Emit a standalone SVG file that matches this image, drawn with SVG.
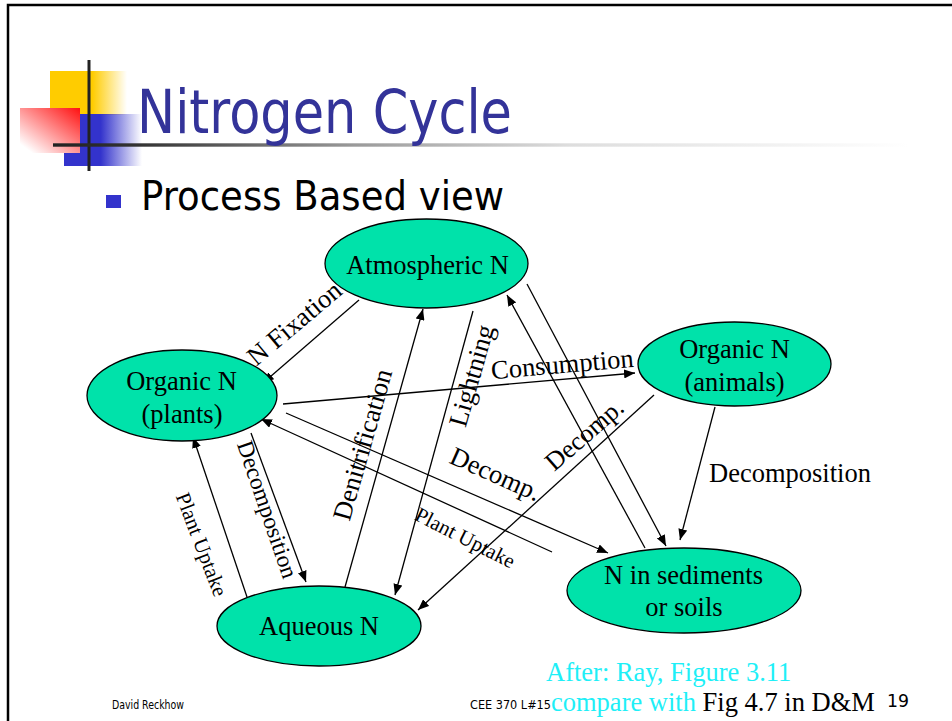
<svg xmlns="http://www.w3.org/2000/svg" width="952" height="721" viewBox="0 0 952 721">
<defs>
<linearGradient id="gY" x1="0" y1="0" x2="1" y2="0"><stop offset="0" stop-color="#FFCC00"/><stop offset="0.55" stop-color="#FFCC00"/><stop offset="1" stop-color="#FFCC00" stop-opacity="0"/></linearGradient>
<linearGradient id="gB" x1="0" y1="0" x2="1" y2="0"><stop offset="0" stop-color="#3333CC"/><stop offset="0.47" stop-color="#3333CC"/><stop offset="1" stop-color="#3333CC" stop-opacity="0"/></linearGradient>
<linearGradient id="gR" x1="1" y1="0" x2="0" y2="1"><stop offset="0" stop-color="#FF1010"/><stop offset="0.9" stop-color="#FFFFFF"/></linearGradient>
<linearGradient id="gL" x1="0" y1="0" x2="1" y2="0"><stop offset="0" stop-color="#222"/><stop offset="0.1" stop-color="#333"/><stop offset="0.35" stop-color="#999"/><stop offset="0.6" stop-color="#ddd"/><stop offset="1" stop-color="#fff"/></linearGradient>
<marker id="ah" markerUnits="userSpaceOnUse" markerWidth="12" markerHeight="9" refX="11" refY="4.5" orient="auto"><path d="M0,0 L11,4.5 L0,9 z" fill="#000"/></marker>
</defs>
<style>
.node ellipse{fill:#00E2AA;stroke:#000;stroke-width:1.3}
.t{font-family:"Liberation Serif","Times New Roman",serif;font-size:26.5px;fill:#000}
.c{text-anchor:middle}
.lbl{font-family:"Liberation Serif","Times New Roman",serif;fill:#000;text-anchor:middle}
#connectors line{stroke:#000;stroke-width:1.3}
.arr{marker-end:url(#ah)}
.sans{font-family:"DejaVu Sans","Liberation Sans",sans-serif}
</style>
<rect width="952" height="721" fill="#fff"/>
<path d="M8,721 V5 H952" fill="none" stroke="#000" stroke-width="2.5"/>
<g id="decor">
<rect x="50" y="71" width="77" height="44" fill="url(#gY)"/>
<rect x="64" y="114" width="78" height="52" fill="url(#gB)"/>
<rect x="20" y="108" width="60" height="45" fill="url(#gR)"/>
<line x1="89" y1="60" x2="89" y2="171" stroke="#222" stroke-width="3"/>
<rect x="53" y="143.3" width="857" height="3.4" fill="url(#gL)"/>
</g>
<text x="137" y="133" class="sans" font-size="61" fill="#333399" textLength="375" lengthAdjust="spacingAndGlyphs">Nitrogen Cycle</text>
<rect x="106" y="195" width="15" height="13" fill="#3333CC"/>
<text x="141" y="210" class="sans" font-size="41" fill="#000" textLength="363" lengthAdjust="spacingAndGlyphs">Process Based view</text>

<g id="connectors">
<line class="arr" x1="359" y1="300" x2="263" y2="383"/>
<line class="arr" x1="345" y1="587" x2="423" y2="309"/>
<line class="arr" x1="473" y1="311" x2="395" y2="595"/>
<line class="arr" x1="283" y1="404" x2="635" y2="373"/>
<line class="arr" x1="654" y1="395" x2="418" y2="610"/>
<line class="arr" x1="527" y1="284" x2="666" y2="546"/>
<line class="arr" x1="645" y1="548" x2="507" y2="295"/>
<line class="arr" x1="286" y1="413" x2="608" y2="553"/>
<line class="arr" x1="552" y1="552" x2="261" y2="419"/>
<line class="arr" x1="247" y1="597" x2="193" y2="437"/>
<line class="arr" x1="251" y1="433" x2="306" y2="582"/>
<line class="arr" x1="715" y1="407" x2="680" y2="540"/>
<text class="lbl" font-size="26.5" transform="translate(300,330) rotate(-40)">N Fixation</text>
<text class="lbl" font-size="26.5" transform="translate(371,447) rotate(-74)">Denitrification</text>
<text class="lbl" font-size="26.5" transform="translate(480,378) rotate(-74)">Lightning</text>
<text class="lbl" font-size="26.5" transform="translate(563,373) rotate(-5)">Consumption</text>
<text class="lbl" font-size="26.5" transform="translate(492,482) rotate(24)">Decomp.</text>
<text class="lbl" font-size="26" transform="translate(590,441) rotate(-41)">Decomp.</text>
<text class="lbl" font-size="21" transform="translate(462,544) rotate(27)">Plant Uptake</text>
<text class="lbl" font-size="23.5" transform="translate(260,512) rotate(71)">Decomposition</text>
<text class="lbl" font-size="21" transform="translate(195,547) rotate(69)">Plant Uptake</text>
<text class="t" x="709" y="482">Decomposition</text>
</g>

<g id="atmospheric" class="node">
<ellipse cx="426.5" cy="263.5" rx="101.5" ry="44.5"/>
<text class="t c" x="427.5" y="274">Atmospheric N</text>
</g>
<g id="plants" class="node">
<ellipse cx="182" cy="395.5" rx="95" ry="45.5"/>
<text class="t c" x="181.5" y="390">Organic N</text>
<text class="t c" x="182" y="423">(plants)</text>
</g>
<g id="animals" class="node">
<ellipse cx="734.5" cy="364" rx="96.5" ry="42"/>
<text class="t c" x="734.5" y="358">Organic N</text>
<text class="t c" x="734.5" y="391">(animals)</text>
</g>
<g id="aqueous" class="node">
<ellipse cx="319" cy="626" rx="102" ry="40"/>
<text class="t c" x="319" y="635">Aqueous N</text>
</g>
<g id="sediments" class="node">
<ellipse cx="684" cy="590.5" rx="117" ry="42.5"/>
<text class="t c" x="683.5" y="584">N in sediments</text>
<text class="t c" x="684" y="616">or soils</text>
</g>

<text class="t" x="546" y="681" style="fill:#1EEFF7" font-size="26">After: Ray, Figure 3.11</text>
<text class="t" x="551" y="711" font-size="26"><tspan style="fill:#1EEFF7">compare with </tspan>Fig 4.7 in D&amp;M</text>
<text x="112" y="709" class="sans" font-size="11.5" fill="#000" textLength="72" lengthAdjust="spacingAndGlyphs">David Reckhow</text>
<text x="470" y="709" class="sans" font-size="12.5" fill="#000" textLength="81" lengthAdjust="spacingAndGlyphs">CEE 370 L#15</text>
<text x="887" y="707" class="sans" font-size="17" fill="#000" textLength="22" lengthAdjust="spacingAndGlyphs">19</text>
</svg>
